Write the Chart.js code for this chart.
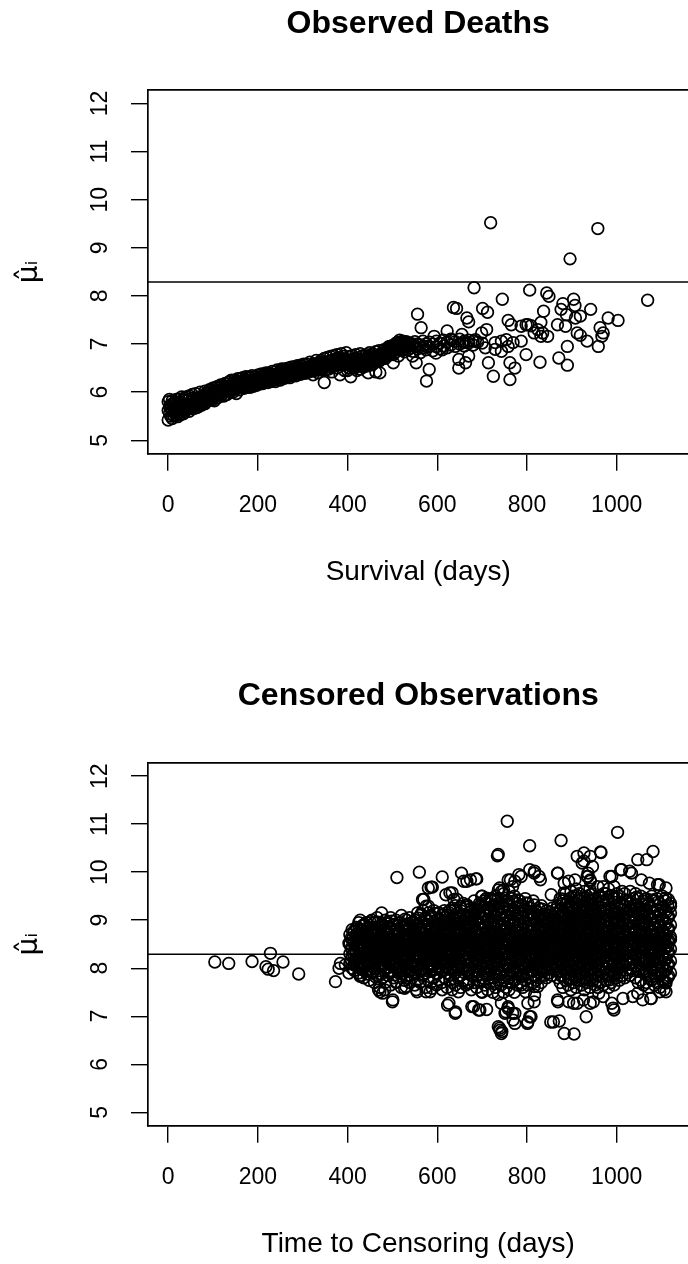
<!DOCTYPE html>
<html>
<head>
<meta charset="utf-8">
<script src="https://cdn.jsdelivr.net/npm/chart.js@4"></script>
<style>
  body { margin: 0; background: #fff; }
  .page { width: 688px; height: 1264px; overflow: hidden; }
  .panel { width: 696px; height: 632px; }
  canvas { display: block; }
</style>
</head>
<body>
<div class="page">
  <div class="panel"><canvas id="deaths" width="696" height="632"></canvas></div>
  <div class="panel"><canvas id="censored" width="696" height="632"></canvas></div>
</div>
<script>
// Axis ticks and the reference line (abline h)
const xTicks = [0, 200, 400, 600, 800, 1000];
const yTicks = [5, 6, 7, 8, 9, 10, 11, 12];
const refMu = 8.29;

// Observed deaths, dense band: [day, mu, mu, ...]
const deathBand = [
  [0, 5.42, 5.62, 5.80], [3, 5.55, 5.70, 5.85], [6, 5.50, 5.66, 5.74], [9, 5.60, 5.82, 5.45],
  [12, 5.68, 5.52, 5.76], [15, 5.57, 5.80, 5.64], [18, 5.52, 5.70, 5.85], [21, 5.62, 5.78, 5.49],
  [24, 5.58, 5.72, 5.86], [27, 5.66, 5.80, 5.53], [30, 5.62, 5.90, 5.74], [34, 5.55, 5.70, 5.84],
  [37, 5.68, 5.88, 5.60], [40, 5.75, 5.62, 5.90], [44, 5.82, 5.66, 5.72], [47, 5.92, 5.70, 5.60],
  [50, 5.80, 5.66, 5.74], [54, 5.95, 5.70, 5.84], [57, 5.88, 5.72, 5.66], [61, 5.75, 5.97, 5.82],
  [64, 5.68, 5.88, 5.78], [68, 5.88, 5.78, 5.70], [71, 5.80, 6.00, 5.74], [75, 5.73, 5.90, 5.86],
  [78, 5.92, 5.84, 5.76], [82, 6.02, 5.76, 5.94], [85, 5.90, 5.80, 5.98], [89, 5.98, 5.82, 5.90],
  [92, 6.05, 5.86, 5.92], [96, 5.86, 5.96, 6.04], [99, 5.95, 6.08, 5.84], [103, 5.82, 6.02, 5.92],
  [106, 6.00, 5.92, 6.10], [110, 6.12, 5.88, 5.98], [113, 5.95, 6.04, 6.10], [117, 6.00, 6.15, 5.92],
  [120, 6.06, 5.95, 6.12], [124, 6.02, 6.08, 5.92], [127, 6.00, 6.18, 6.10], [131, 5.95, 6.10, 6.06],
  [134, 6.12, 6.04, 6.20], [138, 6.22, 6.00, 6.12], [141, 6.16, 6.06, 6.25], [145, 6.12, 6.00, 6.18],
  [148, 6.06, 6.25, 6.14], [152, 5.97, 6.20, 6.10], [155, 6.15, 6.08, 6.28], [159, 6.14, 6.22, 6.05],
  [162, 6.18, 6.28, 6.10], [166, 6.12, 6.22, 6.30], [169, 6.08, 6.18, 6.24], [173, 6.20, 6.14, 6.32],
  [176, 6.26, 6.10, 6.22], [180, 6.16, 6.32, 6.22], [183, 6.10, 6.24, 6.30], [187, 6.22, 6.16, 6.34],
  [190, 6.12, 6.26, 6.20], [194, 6.25, 6.18, 6.32], [197, 6.14, 6.28, 6.22], [201, 6.36, 6.20, 6.27],
  [204, 6.24, 6.17, 6.32], [208, 6.30, 6.20, 6.38], [211, 6.24, 6.34, 6.18], [215, 6.28, 6.36, 6.22],
  [218, 6.30, 6.24, 6.40], [222, 6.20, 6.32, 6.36], [225, 6.27, 6.40, 6.24], [229, 6.33, 6.22, 6.38],
  [232, 6.43, 6.28, 6.34], [236, 6.30, 6.36, 6.25], [239, 6.22, 6.42, 6.32], [243, 6.36, 6.28, 6.46],
  [246, 6.30, 6.40, 6.34], [250, 6.25, 6.44, 6.38], [253, 6.33, 6.48, 6.30], [257, 6.40, 6.28, 6.44],
  [260, 6.36, 6.48, 6.32], [264, 6.40, 6.30, 6.46], [267, 6.35, 6.50, 6.42], [271, 6.30, 6.44, 6.38],
  [274, 6.43, 6.36, 6.52], [278, 6.38, 6.46, 6.34], [281, 6.53, 6.40, 6.44], [285, 6.34, 6.48, 6.42],
  [288, 6.46, 6.40, 6.55], [292, 6.38, 6.50, 6.44], [295, 6.56, 6.37, 6.46], [299, 6.48, 6.42, 6.54],
  [302, 6.43, 6.58, 6.40], [306, 6.50, 6.46, 6.39], [309, 6.46, 6.58, 6.52], [313, 6.42, 6.53, 6.48],
  [316, 6.62, 6.46, 6.50], [320, 6.48, 6.55, 6.44], [323, 6.36, 6.52, 6.58], [327, 6.58, 6.45, 6.50],
  [330, 6.66, 6.50, 6.55], [334, 6.40, 6.56, 6.60], [337, 6.52, 6.62, 6.48], [341, 6.54, 6.46, 6.66],
  [344, 6.60, 6.50, 6.56], [348, 6.20, 6.54, 6.70], [351, 6.62, 6.46, 6.58], [355, 6.56, 6.72, 6.52],
  [358, 6.48, 6.64, 6.58], [362, 6.74, 6.52, 6.60], [365, 6.66, 6.56, 6.42], [369, 6.60, 6.76, 6.54],
  [372, 6.55, 6.68, 6.62], [376, 6.62, 6.50, 6.78], [379, 6.58, 6.70, 6.64], [383, 6.72, 6.36, 6.60],
  [386, 6.66, 6.80, 6.58], [390, 6.62, 6.74, 6.56], [393, 6.60, 6.68, 6.45], [397, 6.66, 6.82, 6.62],
  [400, 6.64, 6.45, 6.58], [404, 6.60, 6.50, 6.74], [407, 6.66, 6.32, 6.56], [411, 6.62, 6.76, 6.52],
  [414, 6.58, 6.68, 6.50], [418, 6.64, 6.52, 6.78], [421, 6.60, 6.70, 6.45], [425, 6.66, 6.54, 6.62],
  [428, 6.80, 6.60, 6.48], [432, 6.68, 6.56, 6.74], [435, 6.62, 6.76, 6.52], [439, 6.70, 6.58, 6.65],
  [442, 6.64, 6.78, 6.54], [446, 6.60, 6.72, 6.40], [449, 6.82, 6.56, 6.68], [453, 6.70, 6.62, 6.76],
  [456, 6.66, 6.80, 6.58], [460, 6.74, 6.64, 6.70], [463, 6.68, 6.84, 6.42], [467, 6.76, 6.70, 6.66],
  [470, 6.72, 6.86, 6.64], [474, 6.78, 6.68, 6.74], [477, 6.70, 6.82, 6.76], [481, 6.80, 6.74, 6.88],
  [484, 6.76, 6.84, 6.70], [488, 6.82, 6.90, 6.78], [491, 6.86, 6.76, 6.94], [495, 6.80, 6.92, 6.84],
  [498, 6.96, 6.82, 6.88], [502, 6.86, 6.94, 6.78], [505, 6.98, 6.88, 6.82], [509, 7.02, 6.90, 6.96],
  [512, 6.94, 7.04, 6.88], [516, 7.00, 6.88, 7.08], [519, 7.04, 6.96, 7.00], [523, 6.92, 7.06, 6.98],
  [527, 7.00, 6.84, 7.04], [531, 6.95, 7.05], [535, 6.88, 7.00], [540, 6.92, 7.02],
  [545, 6.85, 6.98], [550, 6.95, 7.05], [556, 6.90, 7.00], [562, 6.82, 6.98],
  [568, 6.92, 7.06], [575, 6.88, 7.00], [582, 6.95, 7.04], [590, 6.86, 7.00],
  [598, 6.94, 7.06], [606, 6.90, 7.02], [614, 6.96, 7.08], [622, 6.92, 7.04],
  [630, 6.98, 7.10], [640, 6.95, 7.05], [650, 7.00, 7.10], [660, 6.96, 7.06],
  [670, 7.02, 7.08], [680, 6.98, 7.06], [690, 7.04], [700, 7.02]
];

// Observed deaths, scattered points: [day, mu]
const deathScatter = [
  [719, 9.52], [958, 9.40], [896, 8.77], [682, 8.17], [1069, 7.91], [806, 8.12], [745, 7.93], [844, 8.06],
  [849, 7.99], [636, 7.76], [643, 7.74], [556, 7.62], [564, 7.34], [701, 7.74], [712, 7.66], [880, 7.84],
  [904, 7.93], [876, 7.72], [907, 7.80], [942, 7.72], [837, 7.68], [981, 7.54], [1003, 7.49], [666, 7.54],
  [670, 7.46], [758, 7.49], [765, 7.40], [798, 7.40], [809, 7.38], [831, 7.45], [888, 7.61], [908, 7.54],
  [919, 7.58], [868, 7.40], [886, 7.37], [963, 7.34], [970, 7.23], [967, 7.16], [912, 7.23], [934, 7.06],
  [919, 7.18], [959, 6.95], [890, 6.95], [871, 6.71], [890, 6.56], [829, 6.62], [798, 6.78], [762, 6.61],
  [773, 6.50], [762, 6.26], [725, 6.33], [714, 6.61], [576, 6.23], [582, 6.47], [622, 7.27], [593, 7.16],
  [633, 7.09], [655, 7.20], [659, 7.03], [685, 7.09], [699, 7.23], [710, 7.30], [729, 7.03], [743, 7.06],
  [754, 7.09], [769, 7.03], [787, 7.06], [816, 7.23], [831, 7.16], [846, 7.16], [787, 7.37], [802, 7.40],
  [824, 7.30], [835, 7.23], [648, 6.68], [663, 6.61], [670, 6.75], [648, 6.50], [553, 6.61], [545, 6.75],
  [513, 6.75], [502, 6.61], [472, 6.40], [575, 6.95], [597, 6.81], [611, 6.88], [553, 6.95], [538, 7.02],
  [494, 6.95], [509, 7.02], [524, 6.88], [707, 6.92], [729, 6.89], [743, 6.85], [758, 6.95]
];

// Censored observations, dense cloud: [day, mu, mu, ...]
const censBand = [
  [405, 8.3, 8.5, 8.7, 8.1], [410, 8.0, 8.4, 8.6, 8.8, 8.25], [415, 8.15, 8.35, 8.55, 8.75, 7.95],
  [420, 8.05, 8.45, 8.65, 8.85, 8.2], [425, 7.9, 8.3, 8.5, 8.7, 8.95, 8.1], [430, 8.0, 8.2, 8.4, 8.6, 8.8, 7.85],
  [436, 7.8, 8.1, 8.3, 8.5, 8.7, 8.9, 8.45], [442, 7.95, 8.15, 8.35, 8.55, 8.75, 8.95, 8.6],
  [448, 7.75, 8.05, 8.25, 8.45, 8.65, 8.85, 8.4], [454, 7.9, 8.1, 8.3, 8.5, 8.7, 9.0, 8.55],
  [460, 7.7, 8.0, 8.2, 8.4, 8.6, 8.8, 8.95], [466, 7.85, 8.15, 8.35, 8.55, 8.75, 9.05, 8.45],
  [472, 7.6, 7.95, 8.25, 8.45, 8.65, 8.85, 8.1, 8.55], [478, 7.8, 8.05, 8.3, 8.5, 8.7, 8.9, 8.2, 8.6],
  [484, 7.7, 8.0, 8.2, 8.4, 8.6, 8.8, 9.0, 8.35], [490, 7.85, 8.1, 8.35, 8.55, 8.75, 8.95, 8.25, 8.45],
  [496, 7.65, 7.95, 8.15, 8.45, 8.65, 8.85, 9.05, 8.3], [502, 7.8, 8.05, 8.3, 8.5, 8.7, 8.9, 8.2, 8.6],
  [508, 7.7, 8.0, 8.25, 8.4, 8.6, 8.8, 9.0, 8.15], [514, 7.9, 8.1, 8.35, 8.55, 8.75, 8.95, 8.45, 8.3],
  [520, 7.6, 7.95, 8.2, 8.45, 8.65, 8.85, 9.1, 8.05], [526, 7.75, 8.05, 8.3, 8.5, 8.7, 8.9, 8.4, 8.6],
  [532, 7.85, 8.0, 8.25, 8.45, 8.65, 8.8, 9.0, 8.15], [538, 7.7, 7.95, 8.2, 8.4, 8.6, 8.85, 9.05, 8.5],
  [544, 7.8, 8.1, 8.35, 8.55, 8.75, 8.95, 8.25, 8.45], [550, 7.65, 7.9, 8.15, 8.4, 8.6, 8.8, 9.0, 8.3],
  [556, 7.75, 8.05, 8.3, 8.5, 8.7, 8.9, 9.15, 8.2], [562, 7.7, 7.95, 8.2, 8.45, 8.65, 8.85, 9.1, 8.35, 8.55],
  [568, 7.85, 8.1, 8.3, 8.5, 8.75, 8.95, 9.2, 8.0, 8.6], [574, 7.6, 7.9, 8.15, 8.4, 8.6, 8.8, 9.05, 8.25, 8.5],
  [580, 7.75, 8.0, 8.25, 8.45, 8.7, 8.9, 9.15, 8.35, 8.55], [586, 7.7, 7.95, 8.2, 8.4, 8.65, 8.85, 9.1, 8.1, 8.5],
  [592, 7.8, 8.05, 8.3, 8.55, 8.75, 8.95, 9.2, 8.45, 8.2], [598, 7.65, 7.9, 8.15, 8.35, 8.6, 8.8, 9.0, 8.5, 8.25],
  [604, 7.75, 8.0, 8.25, 8.45, 8.7, 8.9, 9.15, 8.35, 8.6], [610, 7.7, 7.95, 8.2, 8.4, 8.6, 8.85, 9.1, 8.3, 8.5],
  [616, 7.8, 8.1, 8.35, 8.55, 8.75, 8.95, 9.2, 8.45, 8.15], [622, 7.6, 7.9, 8.15, 8.4, 8.65, 8.9, 9.1, 8.3, 8.55],
  [628, 7.75, 8.0, 8.25, 8.5, 8.7, 8.95, 9.2, 8.4, 8.6], [634, 7.7, 7.95, 8.2, 8.45, 8.65, 8.85, 9.05, 9.25, 8.35],
  [640, 7.65, 7.9, 8.15, 8.4, 8.6, 8.8, 9.0, 9.3, 8.5], [646, 7.8, 8.05, 8.3, 8.55, 8.75, 8.95, 9.15, 8.2, 8.45],
  [652, 7.6, 7.85, 8.1, 8.35, 8.6, 8.8, 9.05, 9.25, 8.5], [658, 7.75, 8.0, 8.25, 8.5, 8.7, 8.9, 9.1, 9.35, 8.4],
  [664, 7.65, 7.95, 8.2, 8.45, 8.65, 8.85, 9.05, 9.3, 8.55], [670, 7.7, 7.9, 8.15, 8.4, 8.6, 8.85, 9.1, 8.3, 8.95],
  [676, 7.55, 7.85, 8.1, 8.35, 8.55, 8.8, 9.0, 9.25, 8.45], [682, 7.7, 7.95, 8.2, 8.45, 8.7, 8.9, 9.15, 9.4, 8.6],
  [688, 7.6, 7.85, 8.1, 8.3, 8.55, 8.75, 9.0, 9.2, 8.4], [694, 7.75, 8.0, 8.25, 8.5, 8.7, 8.95, 9.15, 9.35, 8.6],
  [700, 7.5, 7.8, 8.05, 8.3, 8.55, 8.8, 9.05, 9.3, 8.4, 8.7], [706, 7.65, 7.9, 8.15, 8.4, 8.6, 8.85, 9.1, 9.4, 8.5, 8.25],
  [712, 7.55, 7.85, 8.1, 8.35, 8.6, 8.8, 9.0, 9.25, 8.45, 8.7], [718, 7.7, 7.95, 8.2, 8.45, 8.65, 8.9, 9.15, 9.45, 8.55, 8.3],
  [724, 7.5, 7.8, 8.05, 8.3, 8.55, 8.75, 9.0, 9.3, 8.4, 8.65], [730, 7.6, 7.9, 8.15, 8.4, 8.6, 8.85, 9.1, 9.5, 8.5, 8.25],
  [736, 7.45, 7.75, 8.0, 8.25, 8.5, 8.7, 8.95, 9.2, 9.45, 8.6], [742, 7.65, 7.9, 8.15, 8.4, 8.65, 8.85, 9.1, 9.35, 8.5, 8.3],
  [748, 7.5, 7.8, 8.05, 8.3, 8.55, 8.8, 9.0, 9.25, 9.55, 8.45], [754, 7.6, 7.85, 8.1, 8.35, 8.6, 8.85, 9.1, 9.4, 8.7, 8.2],
  [760, 7.55, 7.8, 8.05, 8.3, 8.5, 8.75, 9.0, 9.3, 9.6, 8.45], [766, 7.7, 7.95, 8.2, 8.45, 8.7, 8.9, 9.15, 9.45, 8.6, 8.35],
  [772, 7.5, 7.75, 8.0, 8.25, 8.5, 8.7, 8.95, 9.2, 9.5, 8.4], [778, 7.65, 7.9, 8.15, 8.4, 8.6, 8.85, 9.1, 9.35, 8.55, 8.3],
  [784, 7.7, 7.95, 8.2, 8.45, 8.65, 8.9, 9.15, 9.4, 8.55], [790, 7.6, 7.85, 8.1, 8.35, 8.6, 8.8, 9.05, 9.3, 8.5],
  [796, 7.75, 8.0, 8.25, 8.5, 8.7, 8.95, 9.2, 9.45, 8.4], [802, 7.65, 7.9, 8.15, 8.4, 8.65, 8.85, 9.1, 9.35, 8.55],
  [808, 7.8, 8.05, 8.3, 8.55, 8.75, 9.0, 9.25, 8.45, 8.2], [814, 7.7, 7.95, 8.2, 8.45, 8.7, 8.9, 9.15, 9.4, 8.6],
  [820, 7.75, 8.0, 8.25, 8.5, 8.7, 8.95, 9.2, 8.4, 8.1], [826, 7.8, 8.05, 8.3, 8.55, 8.8, 9.0, 9.25, 8.45],
  [832, 7.7, 7.95, 8.2, 8.4, 8.65, 8.85, 9.1, 9.3, 8.55], [838, 7.85, 8.1, 8.35, 8.6, 8.8, 9.05, 8.5, 8.25],
  [844, 7.8, 8.0, 8.25, 8.5, 8.7, 8.95, 9.2, 8.4], [850, 7.9, 8.15, 8.4, 8.6, 8.85, 9.1, 8.3],
  [856, 7.85, 8.05, 8.3, 8.55, 8.75, 9.0, 9.25, 8.45], [862, 7.95, 8.2, 8.45, 8.65, 8.9, 9.15, 8.35],
  [868, 7.8, 8.05, 8.3, 8.5, 8.75, 9.0, 9.3, 8.6], [874, 7.7, 7.95, 8.2, 8.45, 8.7, 8.95, 9.2, 9.45, 8.55],
  [880, 7.6, 7.85, 8.1, 8.35, 8.6, 8.85, 9.1, 9.4, 8.5], [886, 7.75, 8.0, 8.25, 8.5, 8.75, 9.0, 9.25, 9.55, 8.6, 8.35],
  [892, 7.65, 7.9, 8.15, 8.4, 8.65, 8.9, 9.15, 9.4, 8.55, 8.25], [898, 7.55, 7.8, 8.05, 8.3, 8.55, 8.8, 9.05, 9.3, 9.6, 8.45],
  [904, 7.7, 7.95, 8.2, 8.45, 8.7, 8.95, 9.2, 9.5, 8.6, 8.35], [910, 7.6, 7.85, 8.1, 8.35, 8.6, 8.85, 9.1, 9.35, 9.65, 8.5],
  [916, 7.75, 8.0, 8.25, 8.5, 8.75, 9.0, 9.25, 9.55, 8.65, 8.4], [922, 7.65, 7.9, 8.15, 8.4, 8.65, 8.9, 9.15, 9.45, 8.55, 8.3],
  [928, 7.55, 7.8, 8.05, 8.3, 8.55, 8.8, 9.05, 9.3, 9.6, 8.7], [934, 7.7, 7.95, 8.2, 8.45, 8.7, 8.95, 9.2, 9.5, 8.6, 8.35],
  [940, 7.6, 7.85, 8.1, 8.35, 8.6, 8.85, 9.1, 9.4, 9.65, 8.5], [946, 7.75, 8.0, 8.25, 8.5, 8.75, 9.0, 9.25, 9.55, 8.65, 8.4],
  [952, 7.65, 7.9, 8.15, 8.4, 8.65, 8.9, 9.15, 9.45, 8.55, 8.3], [958, 7.6, 7.85, 8.1, 8.35, 8.6, 8.85, 9.1, 9.35, 9.7, 8.5],
  [964, 7.7, 7.95, 8.2, 8.45, 8.7, 8.95, 9.2, 9.5, 8.6, 8.35], [970, 7.65, 7.9, 8.15, 8.4, 8.65, 8.9, 9.15, 9.4, 9.7, 8.55],
  [976, 7.75, 8.0, 8.25, 8.5, 8.75, 9.0, 9.25, 9.55, 8.65, 8.4], [982, 7.6, 7.85, 8.1, 8.35, 8.6, 8.85, 9.1, 9.4, 9.65, 8.5],
  [988, 7.7, 7.95, 8.2, 8.45, 8.7, 8.95, 9.2, 9.5, 8.6, 8.3], [994, 7.65, 7.9, 8.15, 8.4, 8.65, 8.9, 9.15, 9.45, 9.7, 8.55],
  [1000, 7.8, 8.05, 8.3, 8.55, 8.8, 9.05, 9.3, 9.55, 8.45], [1006, 7.75, 8.0, 8.25, 8.5, 8.75, 9.0, 9.25, 9.5, 8.65],
  [1012, 7.85, 8.1, 8.35, 8.6, 8.85, 9.1, 9.35, 9.6, 8.45], [1018, 7.8, 8.05, 8.3, 8.55, 8.8, 9.05, 9.3, 9.55, 8.7],
  [1024, 7.9, 8.15, 8.4, 8.65, 8.9, 9.15, 9.4, 8.5], [1030, 7.85, 8.1, 8.35, 8.6, 8.85, 9.1, 9.35, 9.6, 8.75],
  [1036, 7.95, 8.2, 8.45, 8.7, 8.95, 9.2, 9.45, 8.55], [1042, 7.8, 8.05, 8.3, 8.55, 8.8, 9.05, 9.3, 9.55, 8.65],
  [1048, 7.7, 7.95, 8.2, 8.45, 8.7, 8.95, 9.2, 9.45, 8.6], [1054, 7.75, 8.0, 8.25, 8.5, 8.75, 9.0, 9.25, 9.5, 8.4],
  [1060, 7.65, 7.9, 8.15, 8.4, 8.65, 8.9, 9.15, 9.4, 8.55], [1066, 7.7, 7.95, 8.2, 8.45, 8.7, 8.95, 9.2, 9.45, 8.6],
  [1072, 7.6, 7.85, 8.1, 8.35, 8.6, 8.85, 9.1, 9.35, 8.5], [1078, 7.75, 8.0, 8.25, 8.5, 8.75, 9.0, 9.25, 9.5, 8.65],
  [1084, 7.65, 7.9, 8.15, 8.4, 8.65, 8.9, 9.15, 9.4, 8.55], [1090, 7.7, 7.95, 8.2, 8.45, 8.7, 8.95, 9.2, 9.45, 8.6],
  [1096, 7.6, 7.85, 8.1, 8.35, 8.6, 8.85, 9.1, 9.35, 8.5], [1102, 7.75, 8.0, 8.25, 8.5, 8.75, 9.0, 9.25, 9.5, 8.65],
  [1108, 7.7, 7.95, 8.2, 8.45, 8.7, 8.95, 9.2, 9.4, 8.55], [1114, 7.8, 8.05, 8.3, 8.55, 8.8, 9.05, 9.3, 8.45],
  [1120, 7.9, 8.15, 8.4, 8.65, 8.9, 9.15, 9.35, 8.6]
];

// Censored observations, second pass over the dense core: [day, mu, mu, ...]
const censCore = [
  [408, 8.42, 8.63, 8.18], [414, 8.28, 8.52, 8.77, 8.07], [420, 8.33, 8.58, 8.12, 8.71],
  [426, 8.22, 8.47, 8.68, 8.04, 8.83], [432, 8.37, 8.13, 8.62, 8.88, 7.97], [438, 8.26, 8.51, 8.73, 8.02, 8.92],
  [444, 8.18, 8.43, 8.67, 7.88, 8.81], [450, 8.32, 8.57, 8.09, 8.76, 8.97], [456, 8.21, 8.46, 8.69, 7.93, 8.86],
  [462, 8.36, 8.12, 8.61, 8.83, 7.82], [468, 8.27, 8.52, 8.04, 8.74, 8.96], [474, 8.17, 8.41, 8.66, 7.87, 8.89],
  [480, 8.33, 8.58, 8.11, 8.79, 7.96], [486, 8.23, 8.48, 8.71, 8.02, 8.93], [492, 8.38, 8.14, 8.63, 8.87, 7.91],
  [498, 8.28, 8.53, 8.06, 8.77, 8.98], [504, 8.19, 8.44, 8.68, 7.86, 8.91], [510, 8.34, 8.59, 8.12, 8.81, 7.97],
  [516, 8.24, 8.49, 8.72, 8.03, 8.94], [522, 8.39, 8.16, 8.64, 8.88, 7.89], [528, 8.29, 8.54, 8.07, 8.78, 9.02],
  [534, 8.21, 8.46, 8.69, 7.94, 8.92], [540, 8.36, 8.61, 8.13, 8.83, 7.84], [546, 8.26, 8.51, 8.74, 8.04, 8.97],
  [552, 8.41, 8.17, 8.66, 8.89, 7.92], [558, 8.31, 8.56, 8.08, 8.79, 9.04], [564, 8.22, 8.47, 8.71, 7.97, 8.94, 9.13],
  [570, 8.37, 8.62, 8.14, 8.86, 7.87], [576, 8.27, 8.52, 8.76, 8.02, 8.99], [582, 8.42, 8.18, 8.67, 8.91, 7.93, 9.08],
  [588, 8.32, 8.57, 8.09, 8.81, 9.03], [594, 8.23, 8.48, 8.72, 7.98, 8.96, 9.14], [600, 8.38, 8.63, 8.16, 8.87, 7.88],
  [606, 8.28, 8.53, 8.77, 8.04, 9.01], [612, 8.43, 8.19, 8.68, 8.92, 7.94, 9.12], [618, 8.33, 8.58, 8.11, 8.83, 9.06],
  [624, 8.24, 8.49, 8.73, 7.99, 8.97, 9.17], [630, 8.39, 8.64, 8.17, 8.88, 7.86], [636, 8.29, 8.54, 8.78, 8.06, 9.03, 9.21],
  [642, 8.44, 8.21, 8.69, 8.93, 7.96], [648, 8.34, 8.59, 8.12, 8.84, 9.08, 7.83], [654, 8.26, 8.51, 8.74, 8.01, 8.98, 9.19],
  [660, 8.41, 8.66, 8.18, 8.89, 7.91, 9.12], [666, 8.31, 8.56, 8.79, 8.07, 9.04, 9.27], [672, 8.46, 8.22, 8.71, 8.94, 7.97, 9.16],
  [678, 8.36, 8.61, 8.14, 8.86, 9.09, 7.84], [684, 8.27, 8.52, 8.76, 8.03, 9.01, 9.24], [690, 8.42, 8.67, 8.19, 8.91, 7.93, 9.14],
  [696, 8.32, 8.57, 8.81, 8.08, 9.06, 9.31], [702, 8.47, 8.23, 8.72, 8.96, 7.98, 9.19, 7.72],
  [708, 8.37, 8.62, 8.13, 8.87, 9.11, 7.87, 9.36], [714, 8.28, 8.53, 8.77, 8.04, 9.02, 9.26, 7.79],
  [720, 8.43, 8.68, 8.19, 8.92, 7.94, 9.16, 9.41], [726, 8.33, 8.58, 8.82, 8.09, 9.07, 7.68, 9.32],
  [732, 8.48, 8.24, 8.73, 8.97, 7.99, 9.21, 7.83], [738, 8.38, 8.63, 8.14, 8.88, 9.12, 7.89, 9.37],
  [744, 8.29, 8.54, 8.78, 8.03, 9.03, 9.28, 7.74], [750, 8.44, 8.69, 8.18, 8.93, 7.95, 9.17, 9.46],
  [756, 8.34, 8.59, 8.83, 8.08, 9.08, 7.71, 9.33], [762, 8.49, 8.23, 8.74, 8.98, 7.97, 9.22, 7.86],
  [768, 8.39, 8.64, 8.13, 8.89, 9.13, 7.91, 9.39], [774, 8.28, 8.53, 8.77, 8.04, 9.02, 9.27, 7.76],
  [780, 8.43, 8.68, 8.18, 8.92, 7.96, 9.16, 9.42], [786, 8.33, 8.58, 8.82, 8.08, 9.07, 7.83, 9.31],
  [792, 8.48, 8.23, 8.72, 8.96, 7.99, 9.21], [798, 8.37, 8.62, 8.14, 8.87, 9.11, 7.88, 9.36],
  [804, 8.27, 8.52, 8.76, 8.03, 9.01, 9.26], [810, 8.42, 8.67, 8.18, 8.91, 7.94, 9.14],
  [816, 8.31, 8.56, 8.81, 8.07, 9.06, 7.86, 9.32], [822, 8.46, 8.21, 8.71, 8.94, 7.97, 9.17],
  [828, 8.36, 8.61, 8.12, 8.86, 9.09, 7.91], [834, 8.26, 8.51, 8.74, 8.02, 8.98, 9.23],
  [840, 8.41, 8.66, 8.17, 8.89, 7.95, 9.13], [846, 8.32, 8.57, 8.79, 8.08, 9.03],
  [852, 8.47, 8.22, 8.71, 8.93, 8.01, 9.16], [858, 8.36, 8.61, 8.13, 8.84, 9.07],
  [864, 8.26, 8.52, 8.76, 8.04, 9.01, 9.22], [870, 8.42, 8.67, 8.18, 8.92, 7.93, 9.14],
  [876, 8.32, 8.57, 8.81, 8.07, 9.06, 9.33, 7.84], [882, 8.47, 8.23, 8.72, 8.96, 7.98, 9.19, 9.44],
  [888, 8.37, 8.62, 8.13, 8.87, 9.11, 7.89, 9.37], [894, 8.28, 8.53, 8.77, 8.03, 9.02, 9.27, 7.76],
  [900, 8.43, 8.68, 8.19, 8.92, 7.94, 9.16, 9.48], [906, 8.33, 8.58, 8.82, 8.09, 9.07, 7.81, 9.36],
  [912, 8.48, 8.24, 8.73, 8.97, 7.99, 9.22, 9.51], [918, 8.38, 8.63, 8.14, 8.88, 9.12, 7.87, 9.41],
  [924, 8.29, 8.54, 8.78, 8.04, 9.03, 9.28, 7.74], [930, 8.44, 8.69, 8.18, 8.93, 7.95, 9.17, 9.47],
  [936, 8.34, 8.59, 8.83, 8.08, 9.08, 7.79, 9.36], [942, 8.49, 8.23, 8.74, 8.98, 7.97, 9.22, 9.53],
  [948, 8.39, 8.64, 8.13, 8.89, 9.13, 7.88, 9.42], [954, 8.28, 8.53, 8.77, 8.04, 9.02, 9.27, 7.73],
  [960, 8.43, 8.68, 8.18, 8.92, 7.96, 9.16, 9.49], [966, 8.33, 8.58, 8.82, 8.08, 9.07, 7.83, 9.38],
  [972, 8.48, 8.23, 8.72, 8.96, 7.99, 9.21, 9.56], [978, 8.37, 8.62, 8.14, 8.87, 9.11, 7.88, 9.43],
  [984, 8.27, 8.52, 8.76, 8.03, 9.01, 9.26, 7.76], [990, 8.42, 8.67, 8.18, 8.91, 7.94, 9.14, 9.51],
  [996, 8.31, 8.56, 8.81, 8.07, 9.06, 7.86, 9.37], [1002, 8.46, 8.21, 8.71, 8.94, 7.97, 9.17, 9.46],
  [1008, 8.36, 8.61, 8.12, 8.86, 9.09, 7.91, 9.33], [1014, 8.52, 8.76, 8.27, 9.01, 9.22, 8.06],
  [1020, 8.42, 8.67, 8.18, 8.91, 9.14, 7.96, 9.42], [1026, 8.57, 8.32, 8.81, 9.06, 8.08, 9.27],
  [1032, 8.47, 8.72, 8.23, 8.96, 9.19, 7.99, 9.38], [1038, 8.37, 8.62, 8.86, 8.13, 9.11, 9.31],
  [1044, 8.53, 8.28, 8.77, 9.02, 8.04, 9.24, 9.48], [1050, 8.43, 8.68, 8.19, 8.92, 9.16, 7.94],
  [1056, 8.33, 8.58, 8.82, 8.09, 9.07, 9.33], [1062, 8.48, 8.24, 8.73, 8.97, 7.99, 9.21, 9.44],
  [1068, 8.38, 8.63, 8.14, 8.88, 9.12, 7.89], [1074, 8.29, 8.54, 8.78, 8.04, 9.03, 9.28, 7.78],
  [1080, 8.44, 8.69, 8.18, 8.93, 7.96, 9.17, 9.42], [1086, 8.34, 8.59, 8.83, 8.08, 9.08, 7.84],
  [1092, 8.49, 8.23, 8.74, 8.98, 7.97, 9.22, 9.38], [1098, 8.39, 8.64, 8.13, 8.89, 9.13, 7.88],
  [1104, 8.28, 8.53, 8.77, 8.04, 9.02, 9.27, 7.72], [1110, 8.43, 8.68, 8.18, 8.92, 7.96, 9.16],
  [1116, 8.33, 8.58, 8.82, 8.08, 9.07, 7.84]
];

// Censored observations, scattered points: [day, mu]
const censScatter = [
  [104, 8.13], [135, 8.10], [187, 8.14], [218, 8.03], [223, 7.98], [228, 8.31], [235, 7.95], [256, 8.13],
  [291, 7.88], [373, 7.72], [381, 8.00], [384, 8.10], [395, 8.07], [403, 7.90], [428, 7.83], [403, 8.52],
  [428, 9.00], [476, 9.15],
  [756, 11.06], [1002, 10.83], [734, 10.34], [806, 10.55], [876, 10.66], [912, 10.33], [927, 10.40], [941, 10.33],
  [927, 10.23], [946, 10.12], [965, 10.41], [1047, 10.26], [1067, 10.26], [1081, 10.43], [510, 9.89], [560, 10.0],
  [611, 9.90], [654, 9.98], [666, 9.81], [686, 9.86], [580, 9.67], [586, 9.69], [763, 9.84], [782, 9.95],
  [806, 10.05], [816, 9.98], [830, 9.84], [869, 9.98], [989, 9.91], [1009, 10.05], [1033, 9.98], [1091, 9.74],
  [739, 9.67], [748, 9.63], [768, 9.70], [628, 9.57], [637, 9.43], [652, 9.29], [666, 9.32], [570, 9.43],
  [580, 9.29], [700, 9.50], [710, 9.46], [883, 9.77], [907, 9.84], [883, 9.57], [854, 9.53], [936, 9.91],
  [941, 9.84], [936, 9.98], [1110, 9.67], [1115, 9.43], [1120, 9.29], [817, 10.02], [827, 9.91], [868, 9.98],
  [893, 9.81], [934, 9.91], [941, 9.81], [985, 9.91], [1011, 10.05], [1029, 10.02], [1055, 9.84], [1073, 9.77],
  [1095, 9.74], [1109, 9.46], [787, 9.91], [773, 9.81], [758, 9.84], [736, 9.63], [743, 9.60], [619, 9.53],
  [633, 9.57], [644, 9.43], [699, 9.50], [707, 9.43], [567, 9.43], [575, 9.29], [589, 9.69], [659, 9.81],
  [674, 9.84], [688, 9.86], [923, 10.19], [964, 10.42], [736, 10.37],
  [500, 7.30], [623, 7.23], [640, 7.06], [681, 7.20], [695, 7.13], [710, 7.14], [739, 6.75], [744, 6.68],
  [753, 7.09], [768, 7.06], [773, 6.85], [758, 7.16], [801, 6.85], [806, 6.99], [816, 7.30], [859, 6.88],
  [872, 6.90], [883, 6.64], [905, 6.63], [932, 6.99], [994, 7.13], [989, 7.27], [912, 7.27], [893, 7.30],
  [869, 7.30], [1014, 7.37], [1076, 7.37], [1096, 7.51], [1110, 7.51], [1047, 7.48], [1110, 7.69], [633, 7.55],
  [647, 7.51], [555, 7.51], [584, 7.51], [527, 7.58], [469, 7.55], [478, 7.48], [666, 7.69], [816, 7.62],
  [797, 7.51], [787, 7.65], [960, 7.48], [941, 7.27], [472, 7.51], [483, 7.55], [501, 7.34], [509, 7.72],
  [530, 7.62], [553, 7.55], [575, 7.51], [589, 7.58], [611, 7.55], [626, 7.27], [641, 7.09], [677, 7.20],
  [692, 7.13], [699, 7.51], [670, 7.69], [736, 6.78], [740, 6.71], [751, 7.06], [743, 7.27], [758, 7.20],
  [773, 7.06], [769, 6.92], [743, 6.64], [802, 7.27], [809, 6.99], [802, 6.88], [853, 6.88], [868, 7.34],
  [904, 7.27], [926, 7.34], [948, 7.30], [970, 7.41], [992, 7.17], [1036, 7.41], [1058, 7.34], [1077, 7.37],
  [1106, 7.55], [1109, 7.72], [824, 7.62], [817, 7.44], [1051, 8.24], [1073, 8.17], [1087, 8.03], [1102, 7.90]
];

const xMin = -45;
const xMax = 1160;
const yMin = 4.72;
const yMax = 12.28;

Chart.defaults.font.family = '"Liberation Sans", Arial, Helvetica, sans-serif';
Chart.defaults.color = '#000';

// Turn [day, mu, mu, ...] rows into {x, y} points
function bandPoints(rows) {
  const pts = [];
  for (const row of rows) {
    for (let i = 1; i < row.length; i++) {
      pts.push({ x: row[0], y: row[i] });
    }
  }
  return pts;
}

function makePanel(canvasId, cfg) {
  const ctx = document.getElementById(canvasId);

  return new Chart(ctx, {
    type: 'scatter',
    data: {
      datasets: [
        {
          // horizontal reference line, drawn on top of the points
          data: [{ x: xMin, y: refMu }, { x: xMax, y: refMu }],
          showLine: true,
          borderColor: '#000',
          borderWidth: 1.4,
          pointRadius: 0
        },
        {
          data: cfg.points,
          pointStyle: 'circle',
          pointRadius: 5.8,
          borderWidth: 1.75,
          borderColor: '#000',
          backgroundColor: 'rgba(0,0,0,0)'
        }
      ]
    },
    options: {
      responsive: false,
      animation: false,
      devicePixelRatio: 1,
      events: [],
      layout: { padding: 0 },
      plugins: {
        legend: { display: false },
        tooltip: { enabled: false }
      },
      scales: {
        x: {
          type: 'linear',
          position: 'bottom',
          min: xMin,
          max: xMax,
          afterBuildTicks: (scale) => { scale.ticks = xTicks.map(v => ({ value: v })); },
          afterFit: (scale) => { scale.height = cfg.xAxisHeight; },
          border: { display: true, color: '#000', width: 1.7 },
          grid: { display: true, drawOnChartArea: false, drawTicks: true, tickLength: 17, color: '#000', lineWidth: 1.4 },
          ticks: { autoSkip: false, maxRotation: 0, padding: 21.5, font: { size: 23 }, callback: (v) => String(v) },
          title: { display: true, text: cfg.xTitle, font: { size: 28 }, padding: { top: 0, bottom: cfg.xTitlePad } }
        },
        top: {
          type: 'linear',
          position: 'top',
          min: xMin,
          max: xMax,
          afterFit: (scale) => { scale.height = cfg.plotTop; },
          border: { display: true, color: '#000', width: 1.7 },
          grid: { display: false },
          ticks: { display: false },
          title: { display: true, text: cfg.title, font: { size: 32, weight: 'bold' }, padding: { top: cfg.titlePad, bottom: 0 } }
        },
        y: {
          type: 'linear',
          position: 'left',
          min: yMin,
          max: yMax,
          afterBuildTicks: (scale) => { scale.ticks = yTicks.map(v => ({ value: v })); },
          afterFit: (scale) => { scale.width = 148; },
          border: { display: true, color: '#000', width: 1.7 },
          grid: { display: true, drawOnChartArea: false, drawTicks: true, tickLength: 17, color: '#000', lineWidth: 1.4 },
          ticks: { autoSkip: false, minRotation: 90, maxRotation: 90, crossAlign: 'center', padding: 18, font: { size: 23 }, callback: (v) => String(v) },
          title: { display: true, text: '\u03BC\u0302\u1D62', font: { size: 28, family: '"DejaVu Sans", sans-serif' }, padding: { top: 13, bottom: 0 } }
        }
      }
    }
  });
}

makePanel('deaths', {
  title: 'Observed Deaths',
  xTitle: 'Survival (days)',
  points: bandPoints(deathBand).concat(deathScatter.map(p => ({ x: p[0], y: p[1] }))),
  plotTop: 90,
  titlePad: 5,
  xAxisHeight: 178.3,
  xTitlePad: 42.7
});

makePanel('censored', {
  title: 'Censored Observations',
  xTitle: 'Time to Censoring (days)',
  points: bandPoints(censBand).concat(bandPoints(censCore), censScatter.map(p => ({ x: p[0], y: p[1] }))),
  plotTop: 130.7,
  titlePad: 44.5,
  xAxisHeight: 138.3,
  xTitlePad: 3
});
</script>
</body>
</html>
